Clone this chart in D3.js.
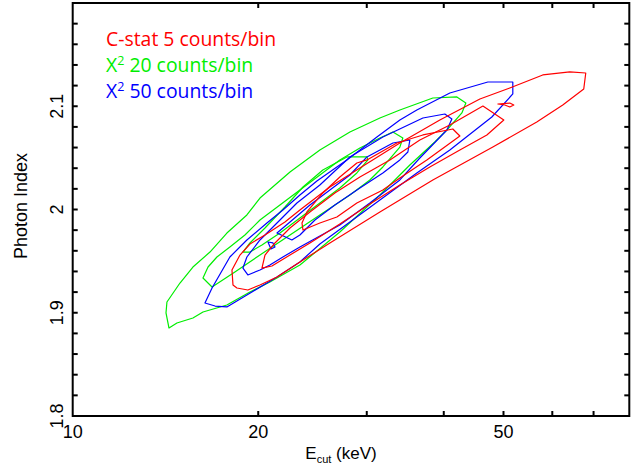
<!DOCTYPE html>
<html><head><meta charset="utf-8">
<script src="https://cdn.jsdelivr.net/npm/d3@7"></script>
<style>body{margin:0;background:#fff}svg{display:block}</style>
</head><body>
<script>
// Confidence contours: photon index vs. cutoff energy (keV)
const xMajorTicks = [10, 20, 50];
const xMinorTicks = [30, 40, 60, 70];
const yLabelTicks = [1.8, 1.9, 2.0, 2.1];
const yLabelText = ["1.8", "1.9", "2", "2.1"];

// C-stat, 5 counts/bin
const cstatOuter = [[18.20,1.9269],[18.13,1.9414],[18.68,1.9559],[19.39,1.9666],[20.51,1.9753],[22.10,1.9879],[23.37,1.9995],[26.14,2.0218],[29.24,2.0402],[33.95,2.0644],[39.42,2.0867],[45.78,2.1070],[51.19,2.1177],[57.90,2.1303],[64.05,2.1332],[67.99,2.1322],[67.48,2.1167],[62.39,2.1012],[56.62,2.0847],[48.05,2.0605],[38.40,2.0286],[31.51,1.9976],[26.14,1.9676],[23.37,1.9492],[21.45,1.9346],[20.13,1.9269],[19.24,1.9220],[18.47,1.9240]];
const cstatIsland = [[48.95,2.1022],[51.19,2.1031],[51.96,2.1012],[51.19,2.0993],[50.25,2.1012]];
const cstatMid = [[20.28,1.9433],[20.51,1.9559],[21.29,1.9676],[22.52,1.9821],[24.26,1.9976],[26.63,2.0160],[29.24,2.0315],[32.71,2.0480],[36.58,2.0673],[40.92,2.0818],[46.30,2.1002],[50.06,2.0867],[46.99,2.0722],[42.48,2.0576],[37.97,2.0412],[33.95,2.0237],[30.35,2.0053],[27.13,1.9860],[24.26,1.9676],[22.52,1.9559],[21.05,1.9453]];
const cstatInner = [[23.55,1.9869],[23.99,1.9976],[25.46,2.0160],[27.13,2.0315],[28.91,2.0450],[30.02,2.0480],[33.57,2.0644],[37.00,2.0722],[41.38,2.0780],[42.48,2.0712],[37.55,2.0480],[33.95,2.0305],[31.86,2.0189],[28.91,2.0063],[26.83,1.9927],[25.18,1.9869],[23.64,1.9801]];

// chi-square, 20 counts/bin
const chi20Outer = [[14.17,1.8998],[14.22,1.9104],[14.93,1.9288],[15.67,1.9443],[16.70,1.9588],[17.79,1.9772],[19.17,1.9947],[20.13,2.0111],[22.52,2.0363],[25.18,2.0576],[28.17,2.0751],[31.51,2.0886],[33.95,2.0964],[38.40,2.1080],[42.01,2.1090],[43.44,2.1031],[42.80,2.0935],[40.47,2.0770],[38.68,2.0654],[35.24,2.0431],[31.51,2.0140],[27.13,1.9782],[23.37,1.9462],[20.89,1.9298],[19.39,1.9201],[17.79,1.9075],[16.27,1.9007],[15.67,1.8949],[14.76,1.8901],[14.33,1.8852]];
const chi20Mid = [[16.27,1.9337],[16.58,1.9443],[17.14,1.9540],[17.99,1.9637],[19.03,1.9753],[20.13,1.9898],[21.69,2.0044],[23.37,2.0189],[25.18,2.0334],[27.13,2.0480],[29.24,2.0596],[31.51,2.0693],[33.08,2.0751],[34.33,2.0693],[33.95,2.0605],[31.86,2.0412],[30.35,2.0286],[28.17,2.0140],[25.18,1.9947],[22.52,1.9753],[20.13,1.9559],[18.33,1.9395],[16.83,1.9249]];
const chi20Inner = [[18.89,1.9588],[19.39,1.9676],[20.51,1.9821],[22.10,2.0024],[23.64,2.0218],[25.46,2.0383],[27.85,2.0509],[30.02,2.0509],[30.13,2.0480],[28.91,2.0354],[27.13,2.0208],[25.18,2.0063],[23.37,1.9918],[21.69,1.9772],[20.28,1.9656],[19.39,1.9588]];

// chi-square, 50 counts/bin
const chi50Outer = [[16.39,1.9094],[16.83,1.9240],[17.99,1.9540],[19.17,1.9705],[20.66,1.9869],[21.93,1.9995],[23.37,2.0140],[24.90,2.0276],[27.85,2.0480],[31.16,2.0702],[33.95,2.0867],[36.17,2.0964],[40.92,2.1128],[47.16,2.1235],[51.77,2.1235],[51.77,2.1119],[47.87,2.0896],[40.92,2.0576],[36.17,2.0354],[31.51,2.0092],[28.17,1.9879],[25.18,1.9666],[23.37,1.9492],[21.45,1.9346],[19.17,1.9172],[17.79,1.9056],[17.02,1.9065]];
const chi50Mid = [[18.89,1.9433],[19.17,1.9540],[20.13,1.9705],[21.45,1.9869],[23.11,2.0063],[25.18,2.0237],[28.17,2.0509],[31.86,2.0702],[37.00,2.0886],[40.16,2.0925],[41.23,2.0877],[40.47,2.0770],[36.58,2.0499],[33.95,2.0286],[30.35,2.0063],[27.13,1.9850],[23.37,1.9637],[21.93,1.9540],[20.89,1.9462],[20.13,1.9414],[19.24,1.9366]];
const chi50Inner = [[21.45,1.9772],[22.52,1.9879],[24.26,2.0044],[26.14,2.0189],[28.17,2.0334],[30.02,2.0509],[33.08,2.0644],[35.24,2.0673],[34.98,2.0557],[33.95,2.0480],[31.86,2.0354],[29.24,2.0208],[26.63,2.0044],[24.72,1.9898],[23.37,1.9753],[22.68,1.9705]];
const chi50Island = [[20.74,1.9685],[21.13,1.9676],[21.29,1.9637],[20.97,1.9617]];

const legendLabels = [
  {pre: "C-stat 5 counts/bin", sup: "", post: "", color: "#ff0000"},
  {pre: "X", sup: "2", post: " 20 counts/bin", color: "#00ee00"},
  {pre: "X", sup: "2", post: " 50 counts/bin", color: "#0000ff"}
];

const contourSets = [
  {color: "#00ee00", rings: [chi20Outer, chi20Mid, chi20Inner]},
  {color: "#0000ff", rings: [chi50Outer, chi50Mid, chi50Inner, chi50Island]},
  {color: "#ff0000", rings: [cstatOuter, cstatMid, cstatInner, cstatIsland]}
];

const W = 644, H = 467;
const frame = {left: 72.7, right: 629.3, top: 3, bottom: 416};

const svg = d3.select("body").append("svg").attr("width", W).attr("height", H);

const x = d3.scaleLog().domain([10, 80]).range([frame.left, frame.right]);
const y = d3.scaleLinear().domain([1.8, 2.2]).range([frame.bottom, frame.top]);

const line = d3.line().x(d => x(d[0])).y(d => y(d[1])).curve(d3.curveLinearClosed);

// contour rings
const plot = svg.append("g");
contourSets.forEach(set => {
  plot.selectAll(null).data(set.rings).enter().append("path")
    .attr("d", line)
    .attr("fill", "none")
    .attr("stroke", set.color)
    .attr("stroke-width", 1.2)
    .attr("stroke-linejoin", "round");
});

// ticks on all four sides, pointing inward
const tickLen = 5;
const xTicks = xMajorTicks.concat(xMinorTicks).filter(v => v > 10);
const yTicks = d3.range(1.8, 2.2001, 0.02).filter(v => v > 1.8001 && v < 2.1999);
const ticks = svg.append("g").attr("stroke", "#000").attr("stroke-width", 2);
xTicks.forEach(v => {
  ticks.append("line").attr("x1", x(v)).attr("x2", x(v)).attr("y1", frame.bottom).attr("y2", frame.bottom - tickLen);
  ticks.append("line").attr("x1", x(v)).attr("x2", x(v)).attr("y1", frame.top).attr("y2", frame.top + tickLen);
});
yTicks.forEach(v => {
  ticks.append("line").attr("x1", frame.left).attr("x2", frame.left + tickLen).attr("y1", y(v)).attr("y2", y(v));
  ticks.append("line").attr("x1", frame.right).attr("x2", frame.right - tickLen).attr("y1", y(v)).attr("y2", y(v));
});

// frame
svg.append("rect").attr("x", frame.left).attr("y", frame.top)
  .attr("width", frame.right - frame.left).attr("height", frame.bottom - frame.top)
  .attr("fill", "none").attr("stroke", "#000").attr("stroke-width", 2);

const font = "'Liberation Sans', Arial, sans-serif";

// x tick labels
svg.append("g").selectAll("text").data(xMajorTicks).enter().append("text")
  .attr("x", d => x(d)).attr("y", 438)
  .attr("text-anchor", "middle").attr("font-family", font).attr("font-size", 18)
  .text(d => d);

// y tick labels (rotated)
svg.append("g").selectAll("text").data(yLabelTicks).enter().append("text")
  .attr("transform", d => `translate(63,${y(d)}) rotate(-90)`)
  .attr("text-anchor", "middle").attr("font-family", font).attr("font-size", 18)
  .text((d, i) => yLabelText[i]);

// axis titles
svg.append("text")
  .attr("transform", `translate(27,206) rotate(-90)`)
  .attr("text-anchor", "middle").attr("font-family", font).attr("font-size", 18)
  .text("Photon Index");

const xt = svg.append("text").attr("x", 341).attr("y", 459)
  .attr("text-anchor", "middle").attr("font-family", font).attr("font-size", 17);
xt.append("tspan").text("E");
xt.append("tspan").attr("font-size", 11).attr("dy", 4).text("cut");
xt.append("tspan").attr("dy", -4).text(" (keV)");

// legend
const legend = svg.append("g");
legendLabels.forEach((d, i) => {
  const t = legend.append("text").attr("x", 106).attr("y", 46 + i * 26)
    .attr("font-family", "'Open Sans', sans-serif").attr("font-size", 19.4).attr("fill", d.color);
  t.append("tspan").text(d.pre);
  if (d.sup) {
    t.append("tspan").attr("font-size", 12.5).attr("dy", -7.5).text(d.sup);
    t.append("tspan").attr("dy", 7.5).text(d.post);
  }
});
</script>
</body></html>
